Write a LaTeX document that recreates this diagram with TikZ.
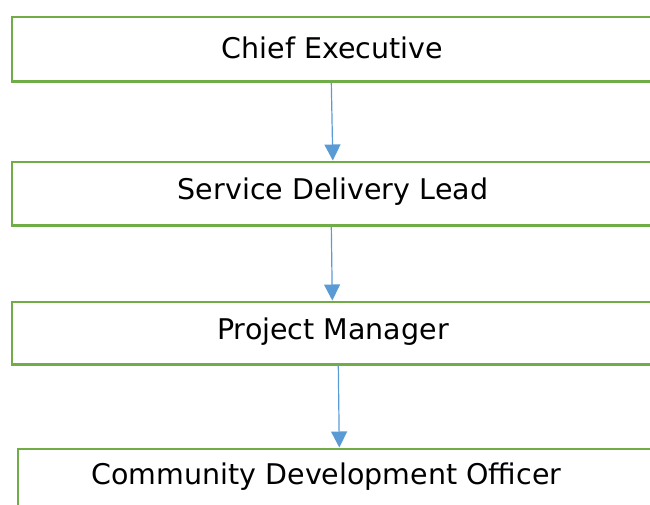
\documentclass[tikz,border=0pt]{standalone}
\usepackage{fontspec}
\setmainfont{DejaVu Sans}
\usetikzlibrary{arrows.meta,calc}
\definecolor{boxgreen}{HTML}{70AD47}
\definecolor{arrowblue}{HTML}{5B9BD5}
\begin{document}
\begin{tikzpicture}[x=1pt,y=-1pt,
  orgbox/.style={draw=boxgreen,line width=2.6pt,minimum width=649pt,inner sep=0pt,anchor=north west},
  lbl/.style={font=\fontsize{28.5}{32}\selectfont,inner sep=0pt},
  conn/.style={draw=arrowblue,line width=1.2pt,-{Triangle[width=16pt,length=16pt]}}]
\useasboundingbox (0,0) rectangle (650,504);
\clip (0,0) rectangle (650,504);
\node[orgbox,minimum height=64.5pt] (b1) at (10.5,15.5) {};
\node[orgbox,minimum height=63.5pt] (b2) at (10.5,160.5) {};
\node[orgbox,minimum height=62.5pt] (b3) at (10.5,300.5) {};
\node[orgbox,minimum height=70pt] (b4) at (16.5,447.5) {};
\node[lbl] (t1) at (332.5,47.5) {Chief Executive};
\node[lbl] (t2) at (333,192) {Service Delivery Lead};
\node[lbl] (t3) at (333,331.5) {Project Manager};
\node[lbl] (t4) at (326.5,477) {Community Development Officer};
\draw[conn] ([xshift=-5pt]b1.south) -- ([xshift=-3.5pt]b2.north);
\draw[conn] ([xshift=-5pt]b2.south) -- ([xshift=-4pt]b3.north);
\draw[conn] ([xshift=2pt]b3.south) -- ([xshift=-3pt]b4.north);
\end{tikzpicture}
\end{document}
